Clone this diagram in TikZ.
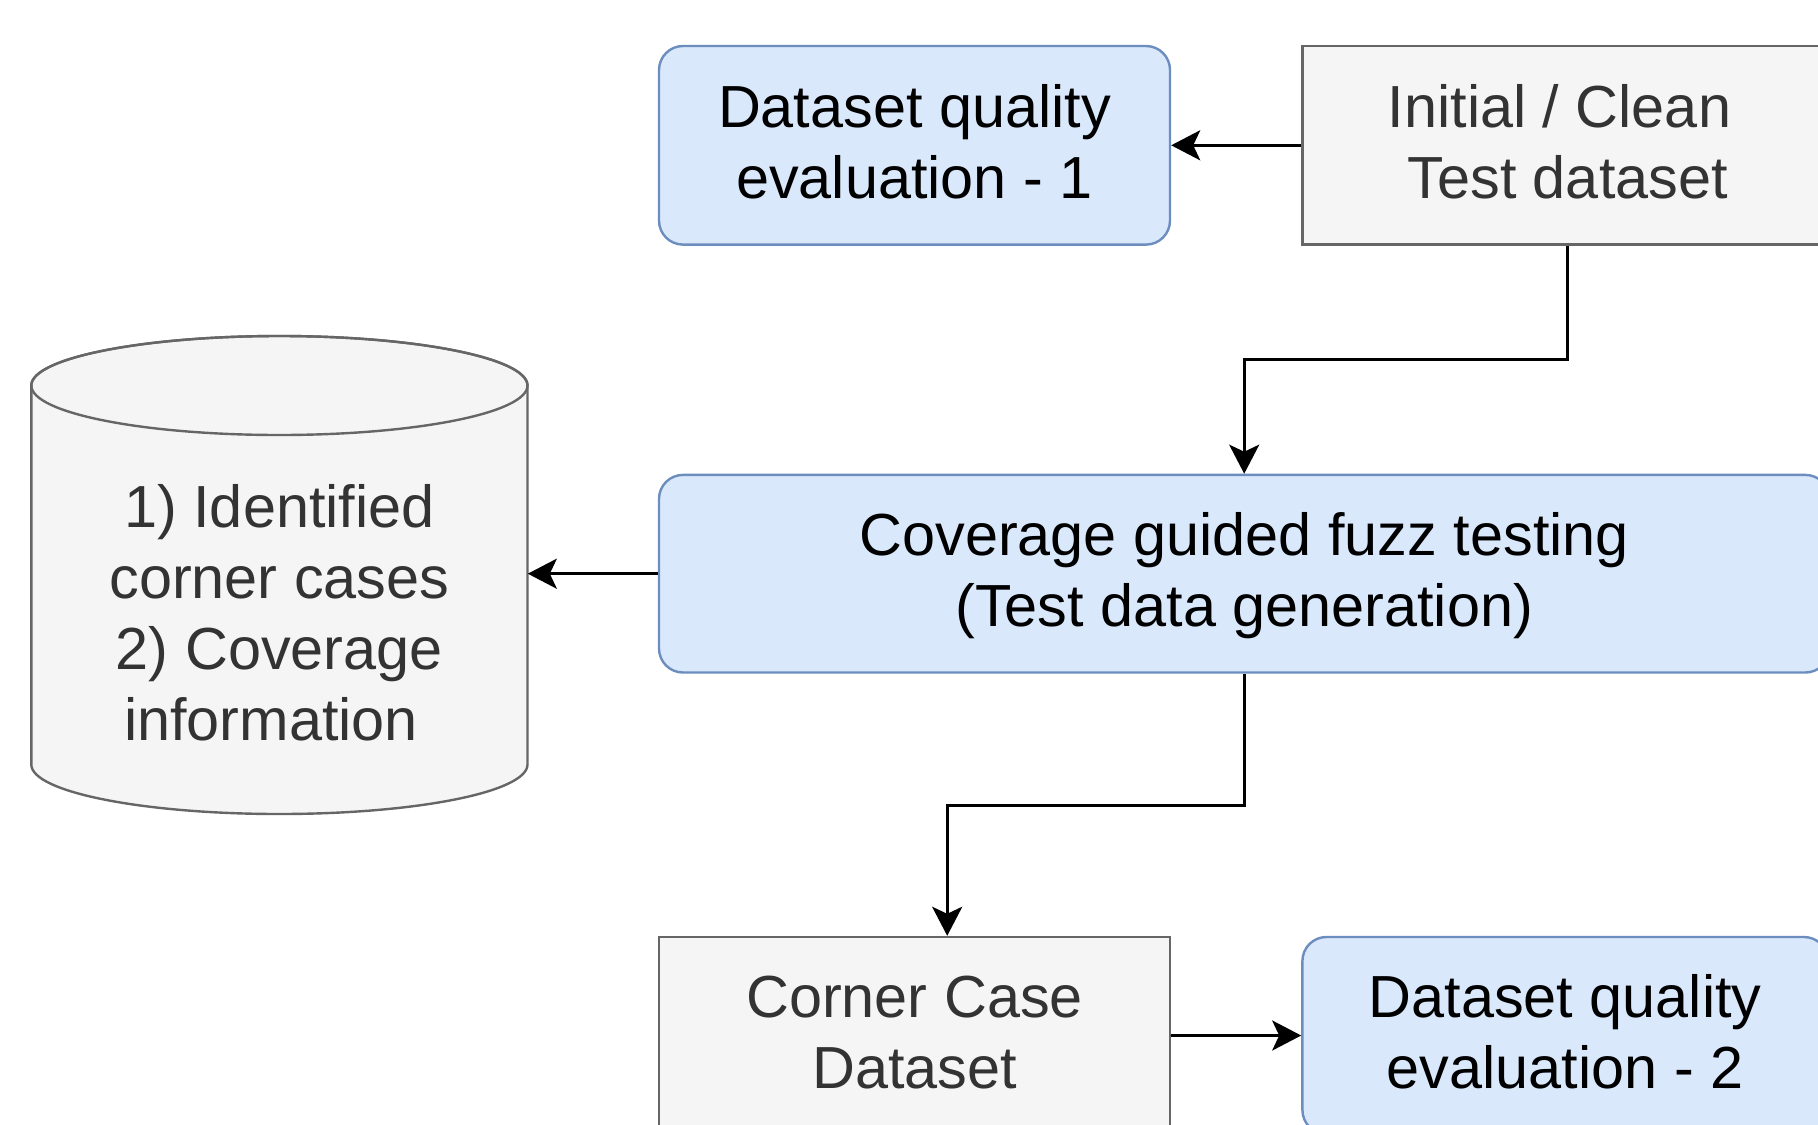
\documentclass[tikz,border=0pt]{standalone}
\usepackage{fontspec}
\setmainfont{Liberation Sans}
\usetikzlibrary{arrows.meta}

\definecolor{bluefill}{HTML}{DAE8FC}
\definecolor{bluedraw}{HTML}{6C8EBF}
\definecolor{grayfill}{HTML}{F5F5F5}
\definecolor{graydraw}{HTML}{666666}
\definecolor{graytext}{HTML}{333333}

% fixed line box so that every label sits the same way in its box
\newcommand{\lbox}{\rule[-9pt]{0pt}{35.5pt}}

\tikzset{
  boxtext/.style={font=\fontsize{29.7pt}{35.5pt}\selectfont, align=center, inner sep=0pt},
  bluebox/.style={boxtext, draw=bluedraw, fill=bluefill, line width=1.2pt,
    rounded corners=12pt, text=black},
  graybox/.style={boxtext, draw=graydraw, fill=grayfill, line width=1.2pt,
    text=graytext},
  arr/.style={draw=black, line width=1.5pt,
    -{Stealth[length=14.5pt, width=15pt, inset=3.5pt]}},
}

\begin{document}
\begin{tikzpicture}[x=0.5pt, y=-0.5pt]
  \useasboundingbox (0,0) rectangle (1818,1124);
  \clip (0,0) rectangle (1818,1124);

  % process boxes
  \node[bluebox, minimum width=255.5pt, minimum height=99.3pt] (dq1) at (914.5,145.3)
    {\lbox Dataset quality\\evaluation - 1\lbox};
  \node[graybox, minimum width=265.3pt, minimum height=99.3pt] (init) at (1567.7,145.3)
    {\lbox Initial / Clean\hspace*{0.278em}\\Test dataset\lbox};
  \node[bluebox, minimum width=585.2pt, minimum height=98.8pt] (fuzz) at (1244.2,573.7)
    {\lbox Coverage guided fuzz testing\\(Test data generation)\lbox};
  \node[graybox, minimum width=255.5pt, minimum height=98.5pt] (ccd) at (914.5,1035.5)
    {\lbox Corner Case\\Dataset\lbox};
  \node[bluebox, minimum width=262.8pt, minimum height=98.5pt] (dq2) at (1565.2,1035.5)
    {\lbox Dataset quality\\evaluation - 2\lbox};

  % database cylinder
  \path[fill=grayfill, draw=graydraw, line width=1.2pt]
    (31.3,385.5) -- (31.3,764.5)
    arc[start angle=180, end angle=360, x radius=124.05pt, y radius=24.75pt]
    -- (527.5,385.5)
    arc[start angle=0, end angle=180, x radius=124.05pt, y radius=24.75pt]
    -- cycle;
  \draw[graydraw, line width=1.2pt] (279.4,385.5)
    ellipse[x radius=124.05pt, y radius=24.75pt];
  \node[boxtext, text=graytext, minimum width=248pt, minimum height=239pt] (cyl) at (279.4,575) {};
  \node[boxtext, text=graytext] (cyltext) at (279.4,616.5)
    {\lbox 1) Identified\\corner cases\\2) Coverage\\information\hspace*{0.278em}\lbox};

  % connectors
  \coordinate (bend1) at (1400,359.4);
  \coordinate (bend2) at (1100,805.8);
  \draw[arr] (init.west) -- (dq1.east);
  \draw[arr] (init.south) |- (bend1) -| (fuzz.north);
  \draw[arr] (fuzz.west) -- (fuzz.west -| cyl.east);
  \draw[arr] (fuzz.south) |- (bend2) -| ([xshift=16.35pt]ccd.north);
  \draw[arr] (ccd.east) -- (dq2.west);
\end{tikzpicture}
\end{document}
